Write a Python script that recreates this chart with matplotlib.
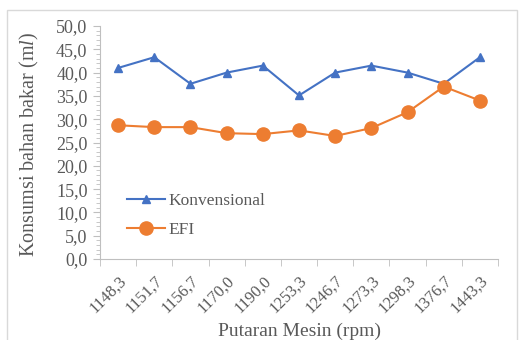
import numpy as np
import matplotlib
matplotlib.use("Agg")
import matplotlib.pyplot as plt
from matplotlib.ticker import MultipleLocator, FixedLocator
from matplotlib.patches import Rectangle

# putaran mesin vs konsumsi bahan bakar
rpm_labels = ["1148,3", "1151,7", "1156,7", "1170,0", "1190,0", "1253,3",
              "1246,7", "1273,3", "1298,3", "1376,7", "1443,3"]
konvensional = [41.0, 43.3, 37.6, 40.0, 41.5, 35.1, 40.0, 41.5, 40.0, 37.6, 43.3]
efi = [28.7, 28.3, 28.3, 27.0, 26.8, 27.6, 26.4, 28.1, 31.5, 37.0, 34.0]

plt.rcParams['font.family'] = ['Liberation Serif', 'DejaVu Serif']
plt.rcParams['mathtext.fontset'] = 'custom'
plt.rcParams['mathtext.rm'] = 'Liberation Serif'
plt.rcParams['mathtext.it'] = 'Liberation Serif:italic'

txt = "#595959"
grey = "#bfbfbf"

fig = plt.figure(figsize=(5.24, 3.4), dpi=100)
fig.patches.append(Rectangle((7/524, -0.05), (517-7)/524, 1 - 10/340 + 0.05,
                             transform=fig.transFigure, fill=False,
                             edgecolor="#d9d9d9", lw=1))
ax = fig.add_axes([100/524, 1-259/340, 398/524, 233/340])

x = np.arange(len(rpm_labels))
ax.plot(x, konvensional, color="#4472C4", lw=1.5, marker="^", ms=5.5,
        label="Konvensional")
ax.plot(x, efi, color="#ED7D31", lw=1.5, marker="o", ms=9.5,
        label="EFI")

ax.set_xlim(-0.5, len(rpm_labels) - 0.5)
ax.set_ylim(0, 50)
ax.yaxis.set_minor_locator(MultipleLocator(1))
ax.set_yticks(np.arange(0, 51, 5))
ax.set_yticklabels([f"{v:.1f}".replace(".", ",") for v in np.arange(0, 51, 5)])

ax.set_xticks(x)
ax.set_xticklabels(rpm_labels, rotation=45, ha="right", rotation_mode="anchor")
ax.xaxis.set_minor_locator(FixedLocator(np.arange(-0.5, len(rpm_labels), 1)))
ax.tick_params(axis="x", which="major", length=0, pad=10, labelsize=12, colors=txt)
ax.tick_params(axis="x", which="minor", length=5, color=grey, direction="out")
ax.tick_params(axis="y", which="major", length=5, color=grey, labelsize=13,
               labelcolor=txt, pad=4)
ax.tick_params(axis="y", which="minor", length=3, color=grey)

for s in ["top", "right"]:
    ax.spines[s].set_visible(False)
for s in ["left", "bottom"]:
    ax.spines[s].set_color(grey)

ax.set_ylabel("Konsumsi bahan bakar (m$\\it{l}$)", fontsize=14.5, color=txt)
ax.yaxis.set_label_coords(-0.148, 0.49)
ax.set_xlabel("Putaran Mesin (rpm)", fontsize=14, color=txt)
ax.xaxis.set_label_coords(0.5, -0.275)

leg = ax.legend(loc="lower left", bbox_to_anchor=(0.068, 0.09), frameon=False,
                fontsize=12.5, handlelength=2.2, handletextpad=0.2, labelspacing=0.75,
                borderpad=0, borderaxespad=0, labelcolor=txt)

fig.savefig("out.png", dpi=100)
plt.close(fig)
